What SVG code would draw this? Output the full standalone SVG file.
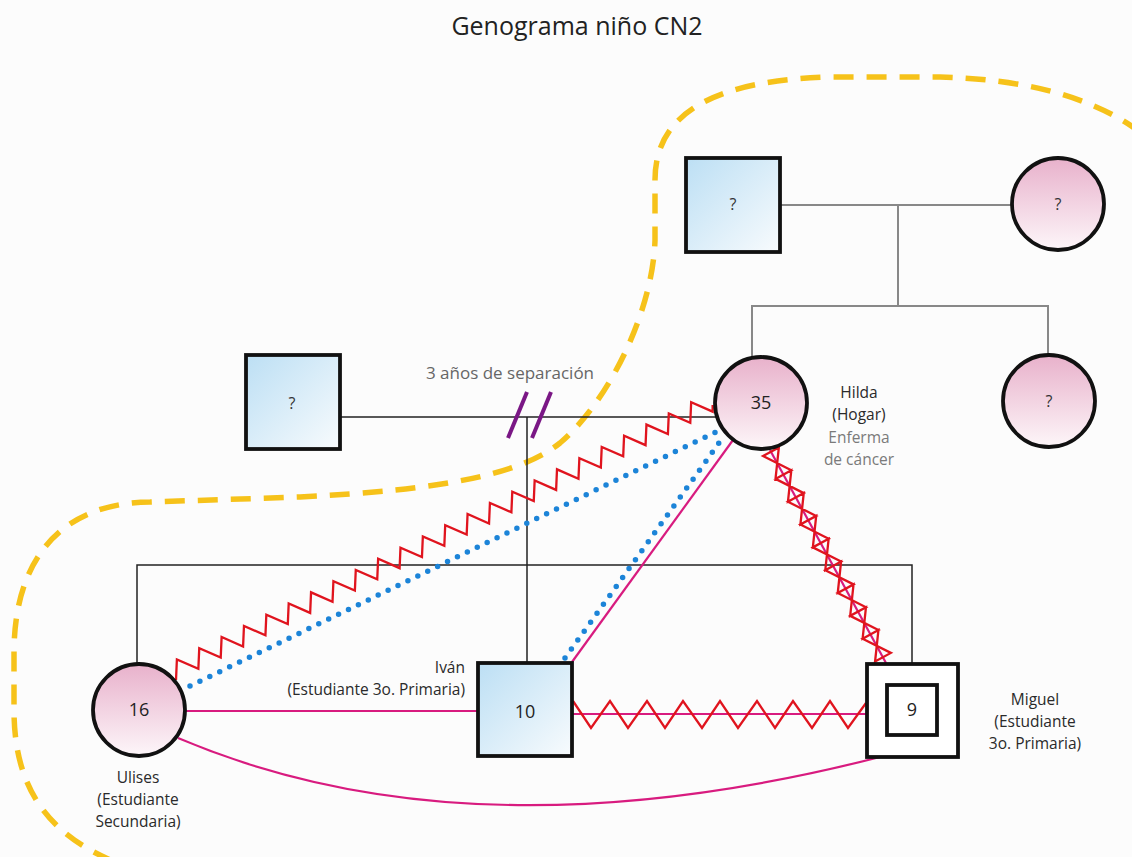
<svg xmlns="http://www.w3.org/2000/svg" width="1132" height="857" viewBox="0 0 1132 857">
  <defs>
    <linearGradient id="maleFill" x1="0" y1="0" x2="1" y2="1">
      <stop offset="0" stop-color="#bcdff4"/>
      <stop offset="1" stop-color="#f8fbfd"/>
    </linearGradient>
    <linearGradient id="femaleFill" x1="0" y1="0" x2="0" y2="1">
      <stop offset="0" stop-color="#e8b1cb"/>
      <stop offset="1" stop-color="#fdf6f9"/>
    </linearGradient>
  </defs>
  <style>
    .male { fill: url(#maleFill); stroke: #111; stroke-width: 3.8; }
    .female { fill: url(#femaleFill); stroke: #111; stroke-width: 3.8; }
    .inner { fill: #fff; stroke: #111; stroke-width: 3.8; }
    .txt { font-family: "Open Sans", "Liberation Sans", sans-serif; }
    .num { font-size: 18px; fill: #222; text-anchor: middle; }
    .q { font-size: 16px; fill: #333; text-anchor: middle; }
    .lbl { font-size: 15.5px; fill: #2a2a2a; }
    .note { font-size: 15.5px; fill: #7a7a7a; }
    .kin { fill: none; stroke: #222; stroke-width: 1.5; }
    .kinGray { fill: none; stroke: #888; stroke-width: 2; }
    .pink { fill: none; stroke: #d81b7f; stroke-width: 2.2; }
    .red { fill: none; stroke: #e0141e; stroke-width: 2.3; stroke-linejoin: miter; }
    .dots { fill: none; stroke: #1c84d8; stroke-width: 5.5; stroke-linecap: round; stroke-dasharray: 0 11; }
    .cut { stroke: #7a1785; stroke-width: 4; }
    .zone { fill: none; stroke: #f6c21a; stroke-width: 5.5; stroke-dasharray: 20 13; }
  </style>

  <rect width="1132" height="857" fill="#fcfcfc"/>

  <text class="txt" x="577" y="35" font-size="25" fill="#222" text-anchor="middle">Genograma niño CN2</text>

  <!-- household boundary -->
  <path class="zone" d="M1140,132 C1090,95 1020,79 940,77 L830,77 C720,80 655,110 655,180 L655,240 C653,310 610,400 560,443 C520,475 440,490 300,497 L150,502 C60,503 15,560 14,650 L14,710 C14,790 50,835 115,862"/>

  <!-- connectors -->
  <g id="connectors">
    <!-- grandparents and their daughters -->
    <line class="kinGray" x1="780" y1="205" x2="1012" y2="205"/>
    <line class="kinGray" x1="898" y1="205" x2="898" y2="306" stroke-width="1.6"/>
    <polyline class="kinGray" stroke-width="1.6" points="752,358 752,306 1048,306 1048,355"/>

    <!-- parents, separated -->
    <line class="kin" x1="340" y1="417" x2="716" y2="417"/>
    <line class="kin" x1="527" y1="417" x2="527" y2="663" stroke="#555"/>
    <line class="cut" x1="508" y1="438" x2="527" y2="392"/>
    <line class="cut" x1="532" y1="438" x2="551" y2="392"/>

    <!-- siblings -->
    <polyline class="kin" points="137,664 137,565 912,565 912,663"/>

    <!-- relationship lines -->
    <line class="pink" x1="185" y1="711" x2="478" y2="711"/>
    <path class="pink" d="M178,738 Q470,862 880,757"/>
    <line class="pink" x1="572" y1="662" x2="733" y2="440"/>
    <line class="pink" x1="572" y1="714" x2="867" y2="714"/>
    <line class="pink" x1="770" y1="450" x2="886" y2="663"/>

    <line class="dots" x1="190" y1="686" x2="718" y2="431"/>
    <line class="dots" x1="565" y1="658" x2="724" y2="436"/>

    <!-- conflict: Ulises - Hilda -->
    <polyline class="red" transform="translate(176,680) rotate(-26.57)" points="0,0 10,-18 25,0 35,-18 50,0 60,-18 75,0 85,-18 100,0 110,-18 125,0 135,-18 150,0 160,-18 175,0 185,-18 200,0 210,-18 225,0 235,-18 250,0 260,-18 275,0 285,-18 300,0 310,-18 325,0 335,-18 350,0 360,-18 375,0 385,-18 400,0 410,-18 425,0 435,-18 450,0 460,-18 475,0 485,-18 500,0 510,-18 525,0 535,-18 550,0 560,-18 575,0 585,-18 600,0 603,-6"/>

    <!-- conflict: Iván - Miguel -->
    <polyline class="red" points="573,701 591,728 610,701 628,728 647,701 665,728 683,701 702,728 720,701 738,728 757,701 775,728 793,701 812,728 830,701 848,728 866,703"/>

    <!-- conflict: Hilda - Miguel -->
    <path class="red" stroke-width="2" transform="translate(770,450) rotate(61.4)" d="M2,-9 L28,9 L28,-9 L2,9 Z M28,-9 L54,9 L54,-9 L28,9 Z M54,-9 L80,9 L80,-9 L54,9 Z M80,-9 L106,9 L106,-9 L80,9 Z M106,-9 L132,9 L132,-9 L106,9 Z M132,-9 L158,9 L158,-9 L132,9 Z M158,-9 L184,9 L184,-9 L158,9 Z M184,-9 L210,9 L210,-9 L184,9 Z M210,-9 L236,9 L236,-9 L210,9 Z"/>
  </g>

  <text class="txt" x="510" y="379" font-size="17" fill="#666" text-anchor="middle">3 años de separación</text>

  <!-- people -->
  <g id="grandfather">
    <rect class="male" x="686" y="158" width="94" height="94"/>
    <text class="txt q" x="733" y="210">?</text>
  </g>
  <g id="grandmother">
    <circle class="female" cx="1058" cy="204" r="46"/>
    <text class="txt q" x="1058" y="210">?</text>
  </g>
  <g id="aunt">
    <circle class="female" cx="1049" cy="401" r="46"/>
    <text class="txt q" x="1049" y="407">?</text>
  </g>
  <g id="father">
    <rect class="male" x="246" y="355" width="94" height="94"/>
    <text class="txt q" x="292" y="409">?</text>
  </g>
  <g id="hilda">
    <circle class="female" cx="761" cy="403" r="46"/>
    <text class="txt num" x="761" y="409">35</text>
    <text class="txt lbl" x="859" y="398" text-anchor="middle">Hilda</text>
    <text class="txt lbl" x="859" y="420" text-anchor="middle">(Hogar)</text>
    <text class="txt note" x="859" y="443" text-anchor="middle">Enferma</text>
    <text class="txt note" x="859" y="465" text-anchor="middle">de cáncer</text>
  </g>
  <g id="ulises">
    <circle class="female" cx="139" cy="710" r="46"/>
    <text class="txt num" x="139" y="716">16</text>
    <text class="txt lbl" x="138" y="783" text-anchor="middle">Ulises</text>
    <text class="txt lbl" x="138" y="805" text-anchor="middle">(Estudiante</text>
    <text class="txt lbl" x="138" y="827" text-anchor="middle">Secundaria)</text>
  </g>
  <g id="ivan">
    <rect class="male" x="478" y="663" width="94" height="93"/>
    <text class="txt num" x="525" y="718">10</text>
    <text class="txt lbl" x="465" y="673" text-anchor="end">Iván</text>
    <text class="txt lbl" x="465" y="695" text-anchor="end">(Estudiante 3o. Primaria)</text>
  </g>
  <g id="miguel">
    <rect class="inner" x="867" y="664" width="91" height="93"/>
    <rect class="inner" x="887" y="685" width="50" height="50"/>
    <text class="txt num" x="912" y="716">9</text>
    <text class="txt lbl" x="1035" y="705" text-anchor="middle">Miguel</text>
    <text class="txt lbl" x="1035" y="727" text-anchor="middle">(Estudiante</text>
    <text class="txt lbl" x="1035" y="749" text-anchor="middle">3o. Primaria)</text>
  </g>
</svg>
